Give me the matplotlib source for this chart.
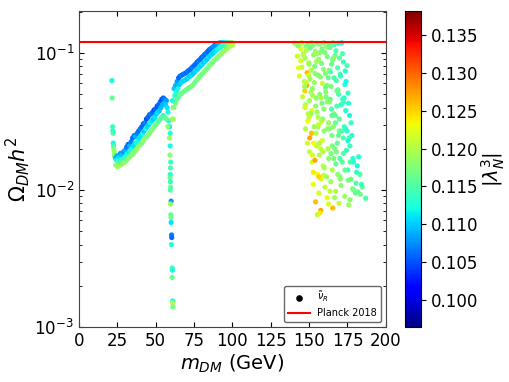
import numpy as np
import matplotlib
matplotlib.use("Agg")
import matplotlib.pyplot as plt

# vertical branch near m ~ 22 GeV
a_m = [21.5, 21.7, 22.0, 22.1, 22.3, 22.4, 22.6, 22.8, 23.0, 23.2, 23.5, 23.8]
a_om = [0.063, 0.047, 0.029, 0.027, 0.026, 0.022, 0.021, 0.020, 0.019, 0.018, 0.0175, 0.017]
a_lam = [0.112, 0.116, 0.114, 0.113, 0.115, 0.112, 0.114, 0.117, 0.119, 0.118, 0.116, 0.117]

# rising curve 24-59 GeV (upper / middle / lower edge)
b_m = [24, 25, 26, 27, 28, 29, 30, 31, 32, 33, 34, 35, 36, 37, 38, 39, 40, 41, 42, 43,
       44, 45, 46, 47, 48, 49, 50, 51, 52, 53, 54, 55, 56, 57, 58, 59]
b_up = [0.0172, 0.0178, 0.0172, 0.0185, 0.018, 0.019, 0.0195, 0.0205, 0.0215, 0.021, 0.0225, 0.024,
        0.025, 0.0245, 0.026, 0.027, 0.028, 0.029, 0.0305, 0.031, 0.033, 0.034, 0.0355, 0.036,
        0.037, 0.0385, 0.039, 0.041, 0.042, 0.044, 0.046, 0.047, 0.046, 0.045, 0.037, 0.029]
b_mid = [0.0165, 0.016, 0.0162, 0.0165, 0.0168, 0.017, 0.0175, 0.0185, 0.019, 0.019, 0.020, 0.021,
         0.022, 0.022, 0.023, 0.024, 0.025, 0.026, 0.027, 0.028, 0.029, 0.030, 0.031, 0.032,
         0.033, 0.034, 0.036, 0.037, 0.038, 0.040, 0.042, 0.043, 0.042, 0.040, 0.032, 0.026]
b_low = [0.0152, 0.0148, 0.015, 0.0152, 0.0155, 0.0158, 0.016, 0.0165, 0.017, 0.0175, 0.018, 0.0182,
         0.019, 0.0195, 0.020, 0.021, 0.0215, 0.022, 0.023, 0.024, 0.0245, 0.025, 0.026, 0.027,
         0.028, 0.029, 0.030, 0.031, 0.032, 0.033, 0.034, 0.035, 0.034, 0.033, 0.029, 0.024]
b_lam_up = [0.109, 0.109, 0.111, 0.108, 0.110, 0.108, 0.109, 0.107, 0.106, 0.109, 0.107, 0.106,
            0.107, 0.109, 0.107, 0.106, 0.107, 0.106, 0.106, 0.107, 0.105, 0.106, 0.106, 0.107,
            0.106, 0.105, 0.106, 0.105, 0.106, 0.106, 0.105, 0.106, 0.107, 0.108, 0.112, 0.111]
b_lam_mid = [0.112, 0.115, 0.114, 0.114, 0.113, 0.113, 0.113, 0.112, 0.111, 0.112, 0.112, 0.111,
             0.111, 0.112, 0.112, 0.111, 0.111, 0.112, 0.110, 0.112, 0.111, 0.110, 0.112, 0.111,
             0.110, 0.111, 0.110, 0.111, 0.110, 0.109, 0.109, 0.109, 0.110, 0.111, 0.113, 0.113]
b_lam_low = [0.118, 0.119, 0.118, 0.120, 0.117, 0.118, 0.119, 0.117, 0.117, 0.118, 0.117, 0.118,
             0.118, 0.117, 0.119, 0.118, 0.118, 0.117, 0.118, 0.119, 0.117, 0.118, 0.117, 0.118,
             0.117, 0.118, 0.116, 0.117, 0.115, 0.116, 0.115, 0.114, 0.116, 0.116, 0.118, 0.119]

# resonance dip near m ~ 60 GeV
d_m = [59.5, 59.3, 59.8, 59.6, 59.5, 59.4, 59.6, 59.8, 59.5, 60.1, 59.6, 59.9, 60.0, 60.1,
       60.4, 60.5, 60.3, 60.8, 61.0, 60.8, 61.1, 61.0, 61.2, 61.5]
d_om = [0.021, 0.018, 0.016, 0.0145, 0.013, 0.0123, 0.0115, 0.0105, 0.010, 0.0083, 0.0079, 0.0066,
        0.0063, 0.0058, 0.0047, 0.0045, 0.0040, 0.0027, 0.0026, 0.0023, 0.00155, 0.0015, 0.0014, 0.033]
d_lam = [0.112, 0.118, 0.114, 0.115, 0.113, 0.116, 0.114, 0.116, 0.115, 0.108, 0.119, 0.116,
         0.117, 0.111, 0.107, 0.106, 0.113, 0.115, 0.112, 0.116, 0.112, 0.120, 0.117, 0.118]

# rising branch 61-100 GeV
c_m = [61, 62, 63, 64, 65, 66, 67, 68, 69, 70, 71, 72, 73, 74, 75, 76, 77, 78, 79, 80,
       81, 82, 83, 84, 85, 86, 87, 88, 89, 90, 91, 92, 93, 94, 95, 96, 97, 98, 99, 100]
c_up = [0.045, 0.055, 0.058, 0.062, 0.066, 0.068, 0.069, 0.070, 0.071, 0.072, 0.074, 0.075,
        0.077, 0.079, 0.081, 0.083, 0.086, 0.088, 0.090, 0.093, 0.095, 0.098, 0.100, 0.103,
        0.106, 0.108, 0.110, 0.113, 0.115, 0.117, 0.118, 0.119, 0.119, 0.119, 0.119, 0.119,
        0.119, 0.119, 0.119, 0.119]
c_mid = [0.040, 0.049, 0.052, 0.055, 0.059, 0.061, 0.062, 0.063, 0.064, 0.065, 0.067, 0.068,
         0.069, 0.071, 0.073, 0.075, 0.077, 0.079, 0.081, 0.083, 0.086, 0.088, 0.090, 0.093,
         0.096, 0.098, 0.100, 0.103, 0.105, 0.107, 0.109, 0.111, 0.113, 0.114, 0.115, 0.116,
         0.117, 0.117, 0.118, 0.118]
c_low = [0.033, 0.040, 0.043, 0.046, 0.048, 0.050, 0.051, 0.052, 0.053, 0.054, 0.055, 0.056,
         0.057, 0.058, 0.060, 0.062, 0.064, 0.066, 0.068, 0.070, 0.072, 0.074, 0.076, 0.078,
         0.081, 0.083, 0.085, 0.088, 0.090, 0.092, 0.095, 0.097, 0.099, 0.102, 0.104, 0.106,
         0.109, 0.111, 0.113, 0.114]
c_lam_up = [0.112, 0.110, 0.109, 0.108, 0.106, 0.106, 0.107, 0.106, 0.107, 0.106, 0.107, 0.106,
            0.106, 0.107, 0.106, 0.106, 0.106, 0.107, 0.106, 0.106, 0.107, 0.106, 0.107, 0.106,
            0.106, 0.107, 0.107, 0.108, 0.107, 0.108, 0.109, 0.109, 0.110, 0.111, 0.112, 0.113,
            0.114, 0.115, 0.116, 0.117]
c_lam_mid = [0.115, 0.113, 0.113, 0.112, 0.110, 0.110, 0.111, 0.110, 0.111, 0.110, 0.111, 0.110,
             0.111, 0.110, 0.110, 0.111, 0.110, 0.111, 0.110, 0.111, 0.110, 0.111, 0.110, 0.111,
             0.110, 0.111, 0.110, 0.111, 0.111, 0.112, 0.112, 0.113, 0.113, 0.114, 0.114, 0.115,
             0.116, 0.117, 0.118, 0.119]
c_lam_low = [0.119, 0.118, 0.117, 0.116, 0.115, 0.117, 0.116, 0.117, 0.116, 0.117, 0.116, 0.117,
             0.116, 0.118, 0.117, 0.116, 0.117, 0.118, 0.117, 0.116, 0.117, 0.118, 0.117, 0.116,
             0.117, 0.118, 0.117, 0.117, 0.118, 0.117, 0.118, 0.118, 0.118, 0.118, 0.119, 0.119,
             0.119, 0.119, 0.120, 0.120]

# heavy-mass cloud 140-188 GeV
e_m = [140.6, 143.8, 145.2, 147.9, 149.3, 151.7, 152.6, 155.4, 156.8, 159.7, 161.2, 162.9, 165.6, 166.4, 168.9, 171.3, 144.5, 148.2, 150.9, 154.1, 158.3, 163.7, 167.5, 146.4, 157.2,
       142.3, 144.6, 147.4, 149.8, 152.9, 153.6, 156.2, 159.4, 161.8, 164.7, 165.3, 168.6, 169.8, 172.4, 173.6, 143.1, 148.7, 155.1, 160.6, 166.9, 174.8, 151.4, 158.1, 163.9,
       143.7, 146.9, 148.4, 150.6, 152.2, 155.8, 158.7, 160.9, 162.4, 164.3, 167.7, 168.8, 170.6, 173.3, 175.4, 147.2, 153.4, 156.9, 161.6, 166.2, 174.1, 149.6,
       145.8, 147.6, 150.3, 151.8, 154.7, 155.9, 158.4, 159.6, 162.7, 163.8, 166.3, 168.1, 169.7, 172.6, 173.9, 176.4, 149.2, 154.3, 161.1, 167.2, 172.8, 151.3, 158.9, 164.6, 170.8,
       147.7, 150.4, 151.6, 154.8, 155.7, 158.6, 159.8, 162.3, 164.9, 165.8, 168.4, 169.6, 172.3, 173.8, 176.6, 177.9, 148.8, 153.3, 157.6, 163.2, 169.1, 175.3, 154.6, 166.7, 172.9,
       150.2, 151.9, 153.8, 155.6, 156.7, 159.2, 161.4, 162.8, 165.1, 167.8, 168.7, 171.6, 172.4, 175.2, 177.3, 178.6, 181.4, 183.1, 152.8, 157.9, 164.3, 170.2, 176.8, 182.3, 159.9, 167.4, 174.3,
       152.7, 154.2, 156.3, 157.6, 160.4, 161.7, 164.2, 165.4, 167.3, 169.5, 170.8, 173.2, 175.6, 176.7, 179.2, 180.6, 183.4, 184.7, 186.9, 157.1, 162.6, 170.4, 175.9, 180.2, 155.3,
       142.8, 146.1, 150.7, 154.9, 160.2, 165.9, 171.8, 145.3, 149.9, 157.4, 163.1, 170.3, 147.1, 152.4, 161.9, 169.2, 175.7, 149.4, 156.1, 164.8, 171.2, 177.4, 153.1, 159.1, 166.1, 173.4, 180.9, 156.4, 163.6, 178.3,
       148.1, 151.2, 153.9, 157.8, 160.7, 163.4, 168.2, 171.9, 147.3, 150.1, 155.2, 158.2, 162.1, 167.1, 174.6, 176.1, 152.1, 156.6, 165.2, 170.1, 178.9, 184.2, 159.5, 166.6, 181.7]
e_om = [.118, .116, .119, .112, .117, .119, .114, .118, .116, .119, .111, .117, .119, .115, .118, .119, .108, .105, .110, .103, .107, .110, .104, .100, .101,
        .095, .088, .092, .085, .097, .080, .090, .076, .094, .083, .089, .078, .092, .086, .074, .078, .072, .099, .071, .096, .081, .075, .084, .073,
        .068, .062, .058, .065, .055, .069, .060, .052, .066, .057, .063, .054, .068, .059, .051, .053, .061, .050, .058, .066, .062, .069,
        .048, .042, .045, .038, .047, .034, .043, .039, .031, .046, .036, .041, .033, .044, .038, .035, .032, .041, .048, .031, .047, .036, .033, .039, .042,
        .028, .024, .026, .021, .029, .023, .027, .020, .025, .029, .022, .027, .024, .028, .021, .025, .022, .029, .020, .028, .025, .023, .026, .020, .029,
        .019, .016, .0165, .013, .018, .015, .0125, .017, .014, .019, .013, .016, .0185, .014, .012, .017, .015, .013, .0135, .012, .0185, .0125, .016, .0175, .0145, .0155, .0195,
        .011, .0082, .0095, .0071, .0105, .0088, .0115, .0074, .0098, .0080, .0108, .0090, .0118, .0085, .0100, .0112, .0093, .0105, .0087, .0068, .0079, .0120, .0078, .0095, .0066,
        .113, .097, .109, .087, .101, .092, .099, .079, .083, .067, .075, .070, .057, .049, .044, .050, .043, .036, .030, .035, .027, .031, .022, .019, .017, .014, .0135, .0125, .0098, .0102,
        .061, .052, .071, .047, .056, .044, .053, .046, .040, .034, .037, .032, .028, .035, .027, .024, .018, .022, .021, .017, .016, .011, .0128, .0088, .0097]
e_lam = [.119, .121, .120, .118, .117, .119, .118, .116, .118, .117, .119, .116, .117, .115, .114, .112, .122, .120, .118, .119, .117, .116, .115, .121, .118,
         .121, .122, .119, .120, .118, .117, .119, .118, .117, .116, .117, .115, .116, .114, .113, .123, .126, .119, .118, .116, .115, .120, .117, .114,
         .122, .120, .127, .119, .118, .117, .121, .118, .116, .117, .115, .116, .114, .113, .114, .125, .119, .118, .117, .115, .112, .121,
         .121, .120, .119, .122, .118, .120, .117, .118, .119, .116, .117, .115, .116, .114, .113, .112, .123, .118, .117, .116, .113, .119, .118, .115, .114,
         .120, .127, .126, .121, .119, .122, .118, .120, .117, .118, .116, .117, .115, .112, .114, .113, .122, .119, .121, .117, .116, .112, .120, .117, .114,
         .121, .122, .127, .123, .120, .121, .119, .118, .120, .117, .118, .116, .115, .114, .116, .113, .112, .115, .124, .122, .117, .118, .115, .113, .119, .116, .114,
         .123, .126, .122, .127, .121, .123, .119, .126, .120, .121, .118, .119, .117, .118, .116, .115, .117, .116, .115, .124, .122, .118, .119, .116, .121,
         .118, .120, .116, .119, .117, .118, .115, .121, .119, .118, .117, .114, .119, .120, .118, .115, .113, .120, .121, .116, .115, .114, .123, .120, .117, .116, .114, .125, .121, .117,
         .121, .119, .118, .120, .117, .118, .116, .114, .122, .121, .119, .120, .118, .116, .113, .114, .122, .120, .117, .115, .113, .114, .121, .119, .116]

planck = 0.12

m_all = np.concatenate([a_m, b_m, np.array(b_m) + 0.5, b_m, d_m, c_m, np.array(c_m) + 0.5, c_m, e_m])
om_all = np.concatenate([a_om, b_up, b_mid, b_low, d_om, c_up, c_mid, c_low, e_om])
lam_all = np.concatenate([a_lam, b_lam_up, b_lam_mid, b_lam_low, d_lam,
                          c_lam_up, c_lam_mid, c_lam_low, e_lam])

plt.rcParams['xtick.direction'] = 'in'
plt.rcParams['ytick.direction'] = 'in'

fig = plt.figure(figsize=(5.09, 3.82), dpi=100)
ax = fig.add_axes([0.155, 0.144, 0.603, 0.827])
cax = fig.add_axes([0.796, 0.144, 0.031, 0.827])

sc = ax.scatter(m_all, om_all, c=lam_all, cmap='jet', vmin=0.0964, vmax=0.1382,
                s=14, edgecolors='none')
# black marker just for the legend entry
ax.scatter([], [], color='black', s=14, label=r'$\tilde{\nu}_R$')
ax.axhline(planck, color='red', lw=1.5, label='Planck 2018')

ax.set_yscale('log')
ax.set_xlim(0, 200)
ax.set_ylim(1e-3, 0.2027)
ax.set_xticks(np.arange(0, 201, 25))
ax.tick_params(labelsize=12, top=True, right=True, which='both')
for sp in ax.spines.values():
    sp.set_color('#444444')
ax.set_xlabel(r'$m_{DM}$ (GeV)', fontsize=14, labelpad=2)
ax.set_ylabel(r'$\Omega_{DM} h^2$', fontsize=15, labelpad=2)

ax.legend(loc='lower right', fontsize=7, handlelength=2.2, borderpad=0.4,
          labelspacing=0.4, edgecolor='#444444')

cb = fig.colorbar(sc, cax=cax)
cb.set_ticks(np.arange(0.100, 0.136, 0.005))
cb.ax.tick_params(labelsize=12, direction='out')
cb.set_label(r'$|\lambda_N^3|$', fontsize=14, labelpad=1)

fig.savefig('out.png', dpi=100)
